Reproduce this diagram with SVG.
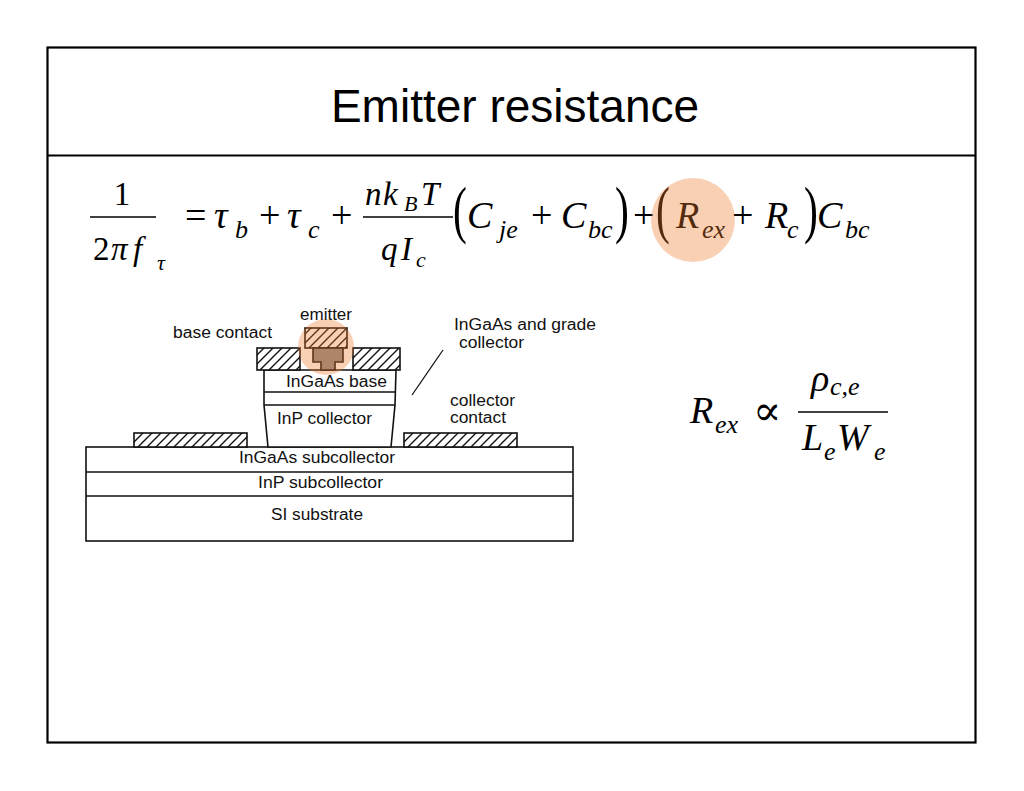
<svg xmlns="http://www.w3.org/2000/svg" width="1024" height="791" viewBox="0 0 1024 791">
<defs>
<style>
.m{font-family:"Liberation Serif","Times New Roman",serif;font-style:italic;fill:#000}
.u{font-family:"Liberation Serif","Times New Roman",serif;fill:#000}
.s{font-family:"Liberation Sans",Arial,sans-serif;font-size:16px;fill:#111}
.ln{stroke:#111;stroke-width:1.6;fill:#fff}
.ln0{stroke:#111;stroke-width:1.6;fill:none}
.gray{stroke:#111;stroke-width:1.6;fill:#8c8c8c}
.hatch{fill:url(#h);stroke:#111;stroke-width:1.6}
.glow{fill:rgb(240,120,40);fill-opacity:0.35}
</style>
<pattern id="h" patternUnits="userSpaceOnUse" width="9" height="9">
<rect width="9" height="9" fill="#fff"/>
<path d="M0,9 L9,0 M-2,2 L2,-2 M7,11 L11,7" stroke="#111" stroke-width="1.4"/>
</pattern>
</defs>
<rect width="1024" height="791" fill="#fff"/>
<g id="frame">
<rect x="47.5" y="47.5" width="928" height="695" fill="none" stroke="#000" stroke-width="2.2"/>
<line x1="47" y1="155.5" x2="976" y2="155.5" stroke="#000" stroke-width="2.2"/>
</g>
<g id="title">
<text x="515" y="122" text-anchor="middle" font-family="'Liberation Sans',Arial,sans-serif" font-size="46">Emitter resistance</text>
</g>
<g id="equation1">
<text class="u" x="122" y="205" font-size="33" text-anchor="middle">1</text>
<line x1="90" y1="217" x2="156" y2="217" stroke="#000" stroke-width="1.6"/>
<text class="u" x="93" y="260" font-size="33">2</text>
<text class="m" x="111" y="260" font-size="33">π</text>
<text class="m" x="133" y="260" font-size="33">f</text>
<text class="m" x="157" y="270" font-size="22">τ</text>
<text class="u" x="185" y="228" font-size="38">=</text>
<text class="m" x="214" y="228" font-size="38">τ</text>
<text class="m" x="235" y="238" font-size="26">b</text>
<text class="u" x="259" y="228" font-size="38">+</text>
<text class="m" x="287" y="228" font-size="38">τ</text>
<text class="m" x="308" y="238" font-size="26">c</text>
<text class="u" x="331" y="228" font-size="38">+</text>
<text class="m" x="365" y="205" font-size="33">n</text>
<text class="m" x="383" y="205" font-size="33">k</text>
<text class="m" x="404" y="211" font-size="22">B</text>
<text class="m" x="421" y="205" font-size="33">T</text>
<line x1="363" y1="217" x2="453" y2="217" stroke="#000" stroke-width="1.6"/>
<text class="m" x="381" y="260" font-size="33">q</text>
<text class="m" x="401" y="260" font-size="33">I</text>
<text class="m" x="416" y="267" font-size="22">c</text>
<text class="u" font-size="64" transform="translate(453,231) scale(0.65,1)">(</text>
<text class="m" x="467" y="228" font-size="38">C</text>
<text class="m" x="499" y="238" font-size="26">je</text>
<text class="u" x="531" y="228" font-size="38">+</text>
<text class="m" x="561" y="228" font-size="38">C</text>
<text class="m" x="588" y="238" font-size="26">bc</text>
<text class="u" font-size="64" transform="translate(615,231) scale(0.65,1)">)</text>
<text class="u" x="633" y="228" font-size="38">+</text>
<text class="u" font-size="64" transform="translate(656,231) scale(0.65,1)">(</text>
<text class="m" x="676" y="228" font-size="38">R</text>
<text class="m" x="702" y="238" font-size="26">ex</text>
<text class="u" x="732" y="228" font-size="38">+</text>
<text class="m" x="765" y="228" font-size="38">R</text>
<text class="m" x="787" y="238" font-size="26">c</text>
<text class="u" font-size="64" transform="translate(804,231) scale(0.65,1)">)</text>
<text class="m" x="817" y="228" font-size="38">C</text>
<text class="m" x="845" y="238" font-size="26">bc</text>
<circle class="glow" cx="693" cy="220" r="42"/>
</g>
<g id="equation2">
<text class="m" x="690" y="423" font-size="38">R</text>
<text class="m" x="715" y="433" font-size="26">ex</text>
<text x="753" y="425" font-size="42" font-family="'DejaVu Serif',serif">∝</text>
<line x1="798" y1="412" x2="888" y2="412" stroke="#000" stroke-width="1.6"/>
<text class="m" x="811" y="391" font-size="38">ρ</text>
<text class="m" x="830" y="395" font-size="26">c,e</text>
<text class="m" x="802" y="450" font-size="38">L</text>
<text class="m" x="824" y="460" font-size="26">e</text>
<text class="m" x="837" y="450" font-size="38">W</text>
<text class="m" x="874" y="460" font-size="26">e</text>
</g>
<g id="device">
<g id="substrate">
<rect x="86" y="447" width="487" height="94" class="ln"/>
<line x1="86" y1="472" x2="573" y2="472" class="ln0"/>
<line x1="86" y1="496" x2="573" y2="496" class="ln0"/>
<text class="s" x="239" y="463" textLength="156" lengthAdjust="spacingAndGlyphs">InGaAs subcollector</text>
<text class="s" x="258" y="488" textLength="125" lengthAdjust="spacingAndGlyphs">InP subcollector</text>
<text class="s" x="271" y="520" textLength="92" lengthAdjust="spacingAndGlyphs">SI substrate</text>
</g>
<g id="collector-contacts">
<rect x="134" y="433" width="113" height="14" class="hatch"/>
<rect x="404" y="433" width="113" height="14" class="hatch"/>
</g>
<g id="mesa">
<path d="M264,370 L264,405 L268,447 L391,447 L395,405 L396,370 Z" class="ln"/>
<line x1="264" y1="392" x2="396" y2="392" class="ln0"/>
<line x1="264" y1="405" x2="395" y2="405" class="ln0"/>
<text class="s" x="286" y="387" textLength="101" lengthAdjust="spacingAndGlyphs">InGaAs base</text>
<text class="s" x="277" y="424" textLength="95" lengthAdjust="spacingAndGlyphs">InP collector</text>
</g>
<g id="base-contacts">
<rect x="257" y="348" width="43" height="22" class="hatch"/>
<rect x="353" y="348" width="47" height="22" class="hatch"/>
</g>
<g id="emitter">
<rect x="305" y="328" width="42" height="20" class="hatch"/>
<path d="M313,348 L343,348 L343,362 L335,362 L335,370 L321,370 L321,362 L313,362 Z" class="gray"/>
<circle class="glow" cx="326" cy="347" r="28"/>
</g>
<g id="labels">
<text class="s" x="173" y="338" textLength="99" lengthAdjust="spacingAndGlyphs">base contact</text>
<text class="s" x="300" y="320" textLength="52" lengthAdjust="spacingAndGlyphs">emitter</text>
<text class="s" x="454" y="330" textLength="142" lengthAdjust="spacingAndGlyphs">InGaAs and grade</text>
<text class="s" x="459" y="348" textLength="65" lengthAdjust="spacingAndGlyphs">collector</text>
<text class="s" x="450" y="406" textLength="65" lengthAdjust="spacingAndGlyphs">collector</text>
<text class="s" x="450" y="423" textLength="56" lengthAdjust="spacingAndGlyphs">contact</text>
</g>
</g>
<g id="connectors">
<line x1="412" y1="395" x2="443" y2="350" stroke="#111" stroke-width="1.3"/>
</g>
</svg>
